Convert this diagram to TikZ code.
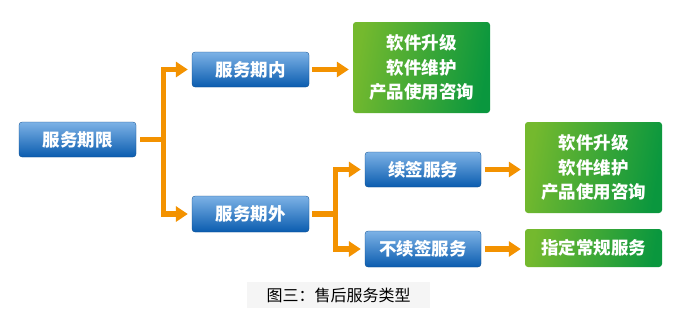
\documentclass[tikz,border=0pt]{standalone}
\usepackage{fontspec}
\newfontfamily\cjk{Noto Sans CJK SC}
\usetikzlibrary{arrows.meta}
\definecolor{bluetop}{HTML}{7DB2E6}
\definecolor{bluebot}{HTML}{0A5CAF}
\definecolor{greenA}{HTML}{74B92E}
\definecolor{greenB}{HTML}{0A973E}
\definecolor{orgM}{HTML}{F39200}
\definecolor{capbg}{HTML}{F5F5F5}
\tikzset{
  bluebox/.style={rectangle, rounded corners=3pt, top color=bluetop, bottom color=bluebot,
    draw=bluebot!80!black, line width=0.3pt, text=white, font=\cjk\bfseries\fontsize{17.5}{20}\selectfont,
    minimum width=117pt, minimum height=35pt, inner sep=0pt},
  greenbox/.style={rectangle, rounded corners=3pt, shading=axis, left color=greenA, right color=greenB,
    shading angle=80, text=white, align=center, font=\cjk\bfseries\fontsize{17.5}{24.5}\selectfont,
    minimum width=137pt, inner sep=0pt},
  conn/.style={line width=5.5pt, draw=orgM, line join=miter,
    -{Triangle[length=12pt,width=15pt]}, shorten >=4pt},
  connb/.style={line width=5.5pt, draw=orgM, line join=miter,
    {Triangle[length=12pt,width=15pt]}-{Triangle[length=12pt,width=15pt]}, shorten >=4pt, shorten <=4pt},
  stub/.style={line width=5.5pt, draw=orgM},
}
\begin{document}
\begin{tikzpicture}[x=1pt,y=-1pt]
\useasboundingbox (0,0) rectangle (682,322);
\fill[white] (0,0) rectangle (682,322);

\node[bluebox] (n1) at (77.5,139.5) {服务期限};
\node[bluebox] (n2) at (250.5,69.5) {服务期内};
\node[bluebox, minimum height=36pt] (n3) at (250.5,214) {服务期外};
\node[bluebox, minimum width=116pt] (n4) at (423,169.5) {续签服务};
\node[bluebox, minimum width=116pt, minimum height=36pt] (n5) at (423,249) {不续签服务};

\node[greenbox, minimum height=91pt] (g1) at (421.5,67.5) {软件升级\\软件维护\\产品使用咨询};
\node[greenbox, minimum height=91pt] (g2) at (593.5,167.5) {软件升级\\软件维护\\产品使用咨询};
\node[greenbox, minimum height=38pt] (g3) at (593.5,248) {指定常规服务};

\node[fill=capbg, minimum width=183pt, minimum height=26pt, inner sep=0pt,
  font=\cjk\fontsize{16}{18}\selectfont] (cap) at (338.5,295) {图三：售后服务类型};

% connectors
\coordinate (b1) at (163.5,139.5);
\coordinate (b2) at (335.5,214);
\draw[stub] ([xshift=4pt]n1.east) -- ([xshift=2.75pt]b1);
\draw[connb] (n2.west) -| (b1) |- (n3.west);
\draw[conn] ([xshift=3pt]n2.east) -- (g1.west |- n2.east);
\draw[stub] ([xshift=3pt]n3.east) -- ([xshift=2.75pt]b2);
\draw[connb] (n4.west) -| (b2) |- (n5.west);
\draw[conn] ([xshift=4pt]n4.east) -- (g2.west |- n4.east);
\draw[conn] ([xshift=4pt]n5.east) -- (g3.west |- n5.east);
\end{tikzpicture}
\end{document}
